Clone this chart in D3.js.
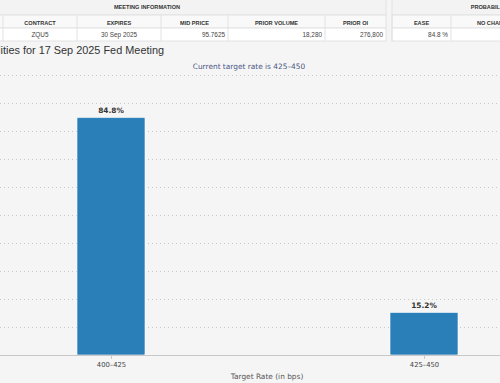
<!DOCTYPE html>
<html>
<head>
<meta charset="utf-8">
<script src="https://cdn.jsdelivr.net/npm/d3@7"></script>
<style>
  html, body { margin: 0; padding: 0; background: #f5f5f5; overflow: hidden; }
  svg { display: block; }
</style>
</head>
<body>
<div id="chart"></div>
<script>
// chart data
const categories = ["400–425", "425–450"];
const probabilities = [84.8, 15.2];
const yTicks = [0, 10, 20, 30, 40, 50, 60, 70, 80, 90, 100];

// meeting information table
const infoColumns = ["MEETING DATE", "CONTRACT", "EXPIRES", "MID PRICE", "PRIOR VOLUME", "PRIOR OI"];
const infoValues = ["17 Sep 2025", "ZQU5", "30 Sep 2025", "95.7625", "18,280", "276,800"];
const infoAlign = ["middle", "middle", "middle", "end", "end", "end"];

// probability table
const probColumns = ["EASE", "NO CHANGE", "HIKE"];
const probValues = ["84.8 %", "15.2 %", "0.0 %"];

const width = 500, height = 383;
const sans = "'Liberation Sans', Arial, sans-serif";
const lucida = "'DejaVu Sans', sans-serif";

const svg = d3.select("#chart").append("svg")
    .attr("width", width)
    .attr("height", height)
    .attr("viewBox", [0, 0, width, height]);

svg.append("rect").attr("width", width).attr("height", height).attr("fill", "#f5f5f5");

// ---- tables ----
function drawTable(g, x0, colEdges, title, cols, vals, aligns) {
    const rows = [0, 15, 28, 41];
    const x1 = colEdges[colEdges.length - 1];
    g.append("rect").attr("x", x0).attr("y", -1).attr("width", x1 - x0).attr("height", 16)
        .attr("fill", "#f3f3f3").attr("stroke", "#e2e2e2");
    g.append("rect").attr("x", x0).attr("y", rows[1]).attr("width", x1 - x0).attr("height", 13)
        .attr("fill", "#f9f9f9").attr("stroke", "#e2e2e2");
    g.append("rect").attr("x", x0).attr("y", rows[2]).attr("width", x1 - x0).attr("height", 13)
        .attr("fill", "#ffffff").attr("stroke", "#e2e2e2");

    g.append("text")
        .attr("x", (x0 + x1) / 2).attr("y", 9)
        .attr("text-anchor", "middle")
        .style("font", `bold 5.6px ${sans}`).attr("fill", "#333")
        .text(title);

    cols.forEach((c, i) => {
        const a = colEdges[i], b = colEdges[i + 1];
        g.append("line").attr("x1", a).attr("x2", a).attr("y1", rows[1]).attr("y2", rows[3])
            .attr("stroke", "#e2e2e2");
        g.append("text")
            .attr("x", (a + b) / 2).attr("y", 24.5)
            .attr("text-anchor", "middle")
            .style("font", `bold 5.6px ${sans}`).attr("fill", "#333")
            .text(c);
        const al = aligns ? aligns[i] : "end";
        g.append("text")
            .attr("x", al === "end" ? b - 3 : (a + b) / 2).attr("y", 36.5)
            .attr("text-anchor", al)
            .style("font", `6.4px ${sans}`).attr("fill", "#444")
            .text(vals[i]);
    });
}

drawTable(svg.append("g"), -92, [-92, 3, 77, 161, 228, 325, 386],
    "MEETING INFORMATION", infoColumns, infoValues, infoAlign);
drawTable(svg.append("g"), 392, [392, 451, 537, 596],
    "PROBABILITY(%)", probColumns, probValues, null);

// ---- chart ----
const x = d3.scalePoint()
    .domain(categories)
    .range([-45.5, 580.5])
    .padding(0.5);

const y = d3.scaleLinear()
    .domain([0, 100])
    .range([355, 75]);

const barWidth = 68;

// title & subtitle
svg.append("text")
    .attr("x", 164).attr("y", 54)
    .attr("text-anchor", "end")
    .style("font", `10.9px ${sans}`).attr("fill", "#333")
    .text("Target Rate Probabilities for 17 Sep 2025 Fed Meeting");

svg.append("text")
    .attr("x", 249).attr("y", 69)
    .attr("text-anchor", "middle")
    .style("font", `7.4px ${lucida}`).attr("fill", "#4b5884")
    .text("Current target rate is 425–450");

// gridlines
svg.append("g")
    .selectAll("line")
    .data(yTicks.slice(1))
    .join("line")
    .attr("x1", 0).attr("x2", width)
    .attr("y1", d => Math.round(y(d)) + 0.5)
    .attr("y2", d => Math.round(y(d)) + 0.5)
    .attr("stroke", "#c8c8c8")
    .attr("stroke-dasharray", "1,3");

// bars
svg.append("g")
    .selectAll("rect")
    .data(probabilities)
    .join("rect")
    .attr("x", (d, i) => x(categories[i]) - barWidth / 2)
    .attr("y", d => y(d))
    .attr("width", barWidth)
    .attr("height", d => y(0) - y(d))
    .attr("rx", 1)
    .attr("fill", "#2a7fb9")
    .attr("stroke", "#ffffff")
    .attr("stroke-width", 0.6);

// data labels
svg.append("g")
    .selectAll("text")
    .data(probabilities)
    .join("text")
    .attr("x", (d, i) => x(categories[i]))
    .attr("y", d => y(d) - 4.5)
    .attr("text-anchor", "middle")
    .style("font", `bold 7.4px ${lucida}`)
    .attr("fill", "#333")
    .text(d => d.toFixed(1) + "%");

// x axis
const xAxis = svg.append("g")
    .attr("transform", `translate(0,${y(0)})`)
    .call(d3.axisBottom(x).tickSize(4).tickPadding(3));
xAxis.select(".domain").attr("stroke", "#c8c8c8").attr("d", `M-50,0.5H${width + 50}`);
xAxis.selectAll(".tick line").attr("stroke", "#c8c8c8");
xAxis.selectAll(".tick text")
    .style("font", `6.8px ${lucida}`)
    .attr("fill", "#444");

svg.append("text")
    .attr("x", 267).attr("y", 379)
    .attr("text-anchor", "middle")
    .style("font", `7.4px ${lucida}`).attr("fill", "#555")
    .text("Target Rate (in bps)");
</script>
</body>
</html>
